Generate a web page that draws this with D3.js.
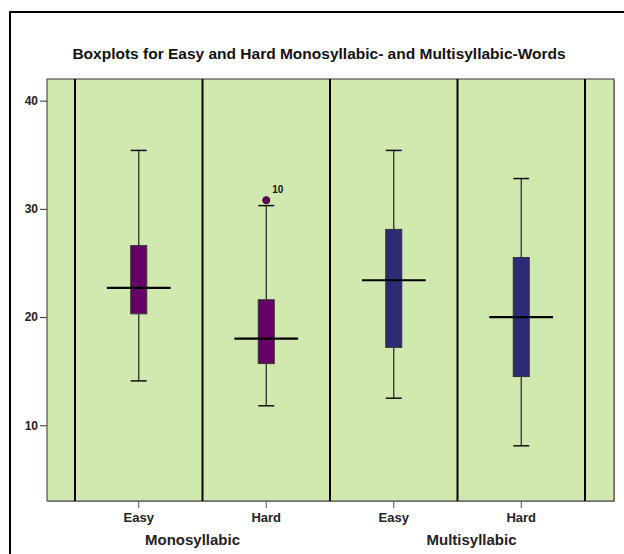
<!DOCTYPE html>
<html>
<head>
<meta charset="utf-8">
<script src="https://cdn.jsdelivr.net/npm/d3@7"></script>
<style>
html,body{margin:0;padding:0;background:#fff;}
svg{display:block;}
text{font-family:"Liberation Sans",Arial,sans-serif;}
</style>
</head>
<body>
<svg id="chart" width="624" height="554"></svg>
<script>
// ---- data ----
const title = "Boxplots for Easy and Hard Monosyllabic- and Multisyllabic-Words";
const categories = ["Easy", "Hard", "Easy", "Hard"];
const groups = ["Monosyllabic", "Monosyllabic", "Multisyllabic", "Multisyllabic"];
const groupNames = ["Monosyllabic", "Multisyllabic"];
const whiskerLow  = [14.1, 11.8, 12.5, 8.1];
const q1          = [20.3, 15.7, 17.2, 14.5];
const median      = [22.7, 18.0, 23.4, 20.0];
const q3          = [26.6, 21.6, 28.1, 25.5];
const whiskerHigh = [35.4, 30.3, 35.4, 32.8];
const outlierCat   = [1];
const outlierValue = [30.8];
const outlierLabel = ["10"];
const yTicks = [10, 20, 30, 40];
const yDomain = [3, 42];

// ---- layout ----
const svg = d3.select("#chart");
const plot = {left: 47, right: 614, top: 79, bottom: 501};
const colors = ["#660066", "#660066", "#2b2b78", "#2b2b78"];

// outer frame (extends beyond page edge)
svg.append("rect").attr("x", 10).attr("y", 12).attr("width", 640).attr("height", 600)
  .attr("fill", "#fff").attr("stroke", "#000").attr("stroke-width", 2);

svg.append("text").attr("x", 319).attr("y", 59).attr("text-anchor", "middle")
  .attr("font-size", 15.5).attr("font-weight", "bold").attr("fill", "#111").text(title);

const x = d3.scaleBand().domain(d3.range(categories.length)).range([75, 585]).padding(0);
const y = d3.scaleLinear().domain(yDomain).range([plot.bottom, plot.top]);
const bw = x.bandwidth();

// plot background
svg.append("rect").attr("x", plot.left + 1).attr("y", plot.top + 1)
  .attr("width", plot.right - plot.left).attr("height", plot.bottom - plot.top)
  .attr("fill", "#b0b0b0");
svg.append("rect").attr("x", plot.left).attr("y", plot.top)
  .attr("width", plot.right - plot.left).attr("height", plot.bottom - plot.top)
  .attr("fill", "#d1e8af").attr("stroke", "#333").attr("stroke-width", 1);

// vertical separators at band boundaries
const bounds = d3.range(categories.length).map(i => x(i)).concat([x(categories.length - 1) + bw]);
svg.append("g").selectAll("line").data(bounds).join("line")
  .attr("x1", d => d).attr("x2", d => d)
  .attr("y1", plot.top).attr("y2", plot.bottom)
  .attr("stroke", "#000").attr("stroke-width", 2);

// y axis
const yAxis = svg.append("g").attr("transform", `translate(${plot.left},0)`)
  .call(d3.axisLeft(y).tickValues(yTicks).tickSize(7).tickPadding(2).tickFormat(d3.format("d")));
yAxis.select(".domain").remove();
yAxis.selectAll(".tick line").attr("stroke", "#333");
yAxis.selectAll(".tick text").attr("font-size", 12).attr("font-weight", "bold").attr("fill", "#222")
  .attr("font-family", "'Liberation Sans',Arial,sans-serif");

// x axis
const xAxis = svg.append("g").attr("transform", `translate(0,${plot.bottom})`)
  .call(d3.axisBottom(x).tickSize(7).tickPadding(5).tickFormat(i => categories[i]));
xAxis.select(".domain").remove();
xAxis.selectAll(".tick line").attr("stroke", "#555");
xAxis.selectAll(".tick text").attr("font-size", 13).attr("font-weight", "bold").attr("fill", "#222")
  .attr("font-family", "'Liberation Sans',Arial,sans-serif");

// group labels
const groupOffset = [-10, 14];
groupNames.forEach((g, gi) => {
  const idx = d3.range(groups.length).filter(i => groups[i] === g);
  const cx = d3.mean(idx, i => x(i) + bw / 2) + groupOffset[gi];
  svg.append("text").attr("x", cx).attr("y", 545).attr("text-anchor", "middle")
    .attr("font-size", 15).attr("font-weight", "bold").attr("fill", "#222").text(g);
});

// boxes
const boxW = 16, capW = 16, medW = bw / 2;
const gBox = svg.append("g");
d3.range(categories.length).forEach(i => {
  const cx = x(i) + bw / 2;
  const g = gBox.append("g");
  g.append("line").attr("x1", cx).attr("x2", cx).attr("y1", y(whiskerHigh[i])).attr("y2", y(q3[i]))
    .attr("stroke", "#222").attr("stroke-width", 1.2);
  g.append("line").attr("x1", cx).attr("x2", cx).attr("y1", y(q1[i])).attr("y2", y(whiskerLow[i]))
    .attr("stroke", "#222").attr("stroke-width", 1.2);
  [whiskerHigh[i], whiskerLow[i]].forEach(v => {
    g.append("line").attr("x1", cx - capW / 2).attr("x2", cx + capW / 2).attr("y1", y(v)).attr("y2", y(v))
      .attr("stroke", "#111").attr("stroke-width", 1.5);
  });
  g.append("rect").attr("x", cx - boxW / 2).attr("y", y(q3[i])).attr("width", boxW)
    .attr("height", y(q1[i]) - y(q3[i])).attr("fill", colors[i]).attr("stroke", "#333").attr("stroke-width", 1);
  g.append("line").attr("x1", cx - medW / 2).attr("x2", cx + medW / 2).attr("y1", y(median[i])).attr("y2", y(median[i]))
    .attr("stroke", "#000").attr("stroke-width", 2.2);
});

// outliers
outlierCat.forEach((c, k) => {
  const cx = x(c) + bw / 2;
  svg.append("circle").attr("cx", cx).attr("cy", y(outlierValue[k])).attr("r", 3.5)
    .attr("fill", colors[c]).attr("stroke", "#111").attr("stroke-width", 1);
  svg.append("text").attr("x", cx + 6).attr("y", y(outlierValue[k]) - 7)
    .attr("font-size", 10).attr("font-weight", "bold").attr("fill", "#111").text(outlierLabel[k]);
});
</script>
</body>
</html>
